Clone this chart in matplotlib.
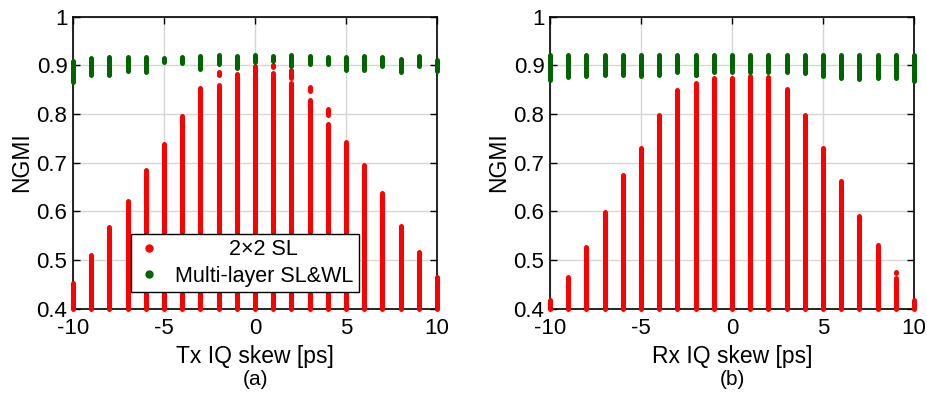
import numpy as np
import matplotlib.pyplot as plt
from matplotlib.lines import Line2D

plt.rcParams['font.family'] = ['Liberation Sans', 'DejaVu Sans']

# IQ skew sweep [ps]
skew = np.arange(-10, 11)

# (a) Tx IQ skew: top of the 2x2 SL NGMI cloud at each skew (cloud reaches down below 0.4)
red_top_a = [0.453, 0.509, 0.567, 0.620, 0.684, 0.739, 0.795, 0.853, 0.860, 0.881,
             0.898, 0.884, 0.864, 0.828, 0.780, 0.742, 0.695, 0.637, 0.570, 0.516, 0.465]
# detached 2x2 SL runs above the main cloud: skew, low, high
red_extra_a_x = [-2, 1, 2, 3, 4, 5]
red_extra_a_lo = [0.879, 0.897, 0.874, 0.846, 0.797, 0.754]
red_extra_a_hi = [0.886, 0.900, 0.890, 0.855, 0.810, 0.755]
# multi-layer SL&WL NGMI spread
green_lo_a = [0.865, 0.880, 0.880, 0.887, 0.885, 0.906, 0.904, 0.892, 0.902, 0.894,
              0.906, 0.909, 0.899, 0.902, 0.902, 0.890, 0.891, 0.898, 0.885, 0.898, 0.888]
green_hi_a = [0.909, 0.914, 0.916, 0.916, 0.917, 0.914, 0.917, 0.919, 0.921, 0.919,
              0.921, 0.919, 0.921, 0.919, 0.917, 0.917, 0.919, 0.917, 0.913, 0.919, 0.911]

# (b) Rx IQ skew
red_top_b = [0.418, 0.465, 0.526, 0.598, 0.674, 0.730, 0.797, 0.849, 0.864, 0.873,
             0.873, 0.877, 0.876, 0.851, 0.797, 0.730, 0.662, 0.590, 0.531, 0.462, 0.418]
red_extra_b_x = [-2, 9]
red_extra_b_lo = [0.879, 0.473]
red_extra_b_hi = [0.884, 0.474]
green_lo_b = [0.869, 0.876, 0.877, 0.880, 0.880, 0.878, 0.880, 0.885, 0.880, 0.885,
              0.885, 0.885, 0.885, 0.885, 0.883, 0.878, 0.874, 0.871, 0.874, 0.874, 0.867]
green_hi_b = [0.920] * 21

y_floor = 0.4
yticks = [0.4, 0.5, 0.6, 0.7, 0.8, 0.9, 1.0]
ytick_labels = ['0.4', '0.5', '0.6', '0.7', '0.8', '0.9', '1']
xticks = [-10, -5, 0, 5, 10]

RED = '#ff0000'
GREEN = '#006400'

W, H = 927, 396
fig = plt.figure(figsize=(W / 100, H / 100), dpi=100)
ax_a = fig.add_axes([73 / W, 1 - 308.5 / H, 364 / W, 292 / H])
ax_b = fig.add_axes([550 / W, 1 - 308.5 / H, 364 / W, 292 / H])


def draw_panel(ax, red_top, ex_x, ex_lo, ex_hi, g_lo, g_hi, xlabel, tag, legend):
    col_w = 3.6
    ax.vlines(skew, y_floor, red_top, color=RED, lw=col_w, capstyle='round',
              clip_on=False, zorder=3)
    ax.vlines(ex_x, ex_lo, ex_hi, color=RED, lw=col_w, capstyle='round',
              clip_on=False, zorder=3)
    ax.vlines(skew, g_lo, g_hi, color=GREEN, lw=col_w, capstyle='round',
              clip_on=False, zorder=4)

    ax.set_xlim(-10, 10)
    ax.set_ylim(0.4, 1.0)
    ax.set_xticks(xticks)
    ax.set_xticklabels([str(t) for t in xticks])
    ax.set_yticks(yticks)
    ax.set_yticklabels(ytick_labels)
    ax.grid(True, color='#d6d6d6', lw=1.0, zorder=0)
    ax.set_axisbelow(True)
    ax.tick_params(direction='in', top=True, right=True, length=5, width=1.0,
                   labelsize=16, pad=4)
    ax.tick_params(axis='x', pad=7)
    for s in ax.spines.values():
        s.set_linewidth(1.2)
        s.set_zorder(2.5)

    ax.set_xlabel(xlabel, fontsize=16.5, labelpad=4)
    ax.set_ylabel('NGMI', fontsize=16.5)
    ax.yaxis.set_label_coords(-0.11, 0.5)

    bb = ax.get_position()
    fig.text(bb.x0 + bb.width / 2, 1 - 385 / H, tag, ha='center', va='baseline',
             fontsize=15)

    if legend:
        handles = [Line2D([], [], ls='', marker='o', ms=5, color=RED),
                   Line2D([], [], ls='', marker='o', ms=5, color=GREEN)]
        leg = ax.legend(handles, ['         2×2 SL', 'Multi-layer SL&WL'],
                        loc='lower left', bbox_to_anchor=(0.159, 0.0565),
                        fontsize=15.5, frameon=True, fancybox=False,
                        framealpha=1, edgecolor='black', borderpad=0.25,
                        handletextpad=0.6, handlelength=1.2, labelspacing=0.25,
                        borderaxespad=0)
        leg.get_frame().set_linewidth(1.0)
        leg.set_zorder(10)


draw_panel(ax_a, red_top_a, red_extra_a_x, red_extra_a_lo, red_extra_a_hi,
           green_lo_a, green_hi_a, 'Tx IQ skew [ps]', '(a)', True)
draw_panel(ax_b, red_top_b, red_extra_b_x, red_extra_b_lo, red_extra_b_hi,
           green_lo_b, green_hi_b, 'Rx IQ skew [ps]', '(b)', False)

fig.savefig('out.png', dpi=100)
